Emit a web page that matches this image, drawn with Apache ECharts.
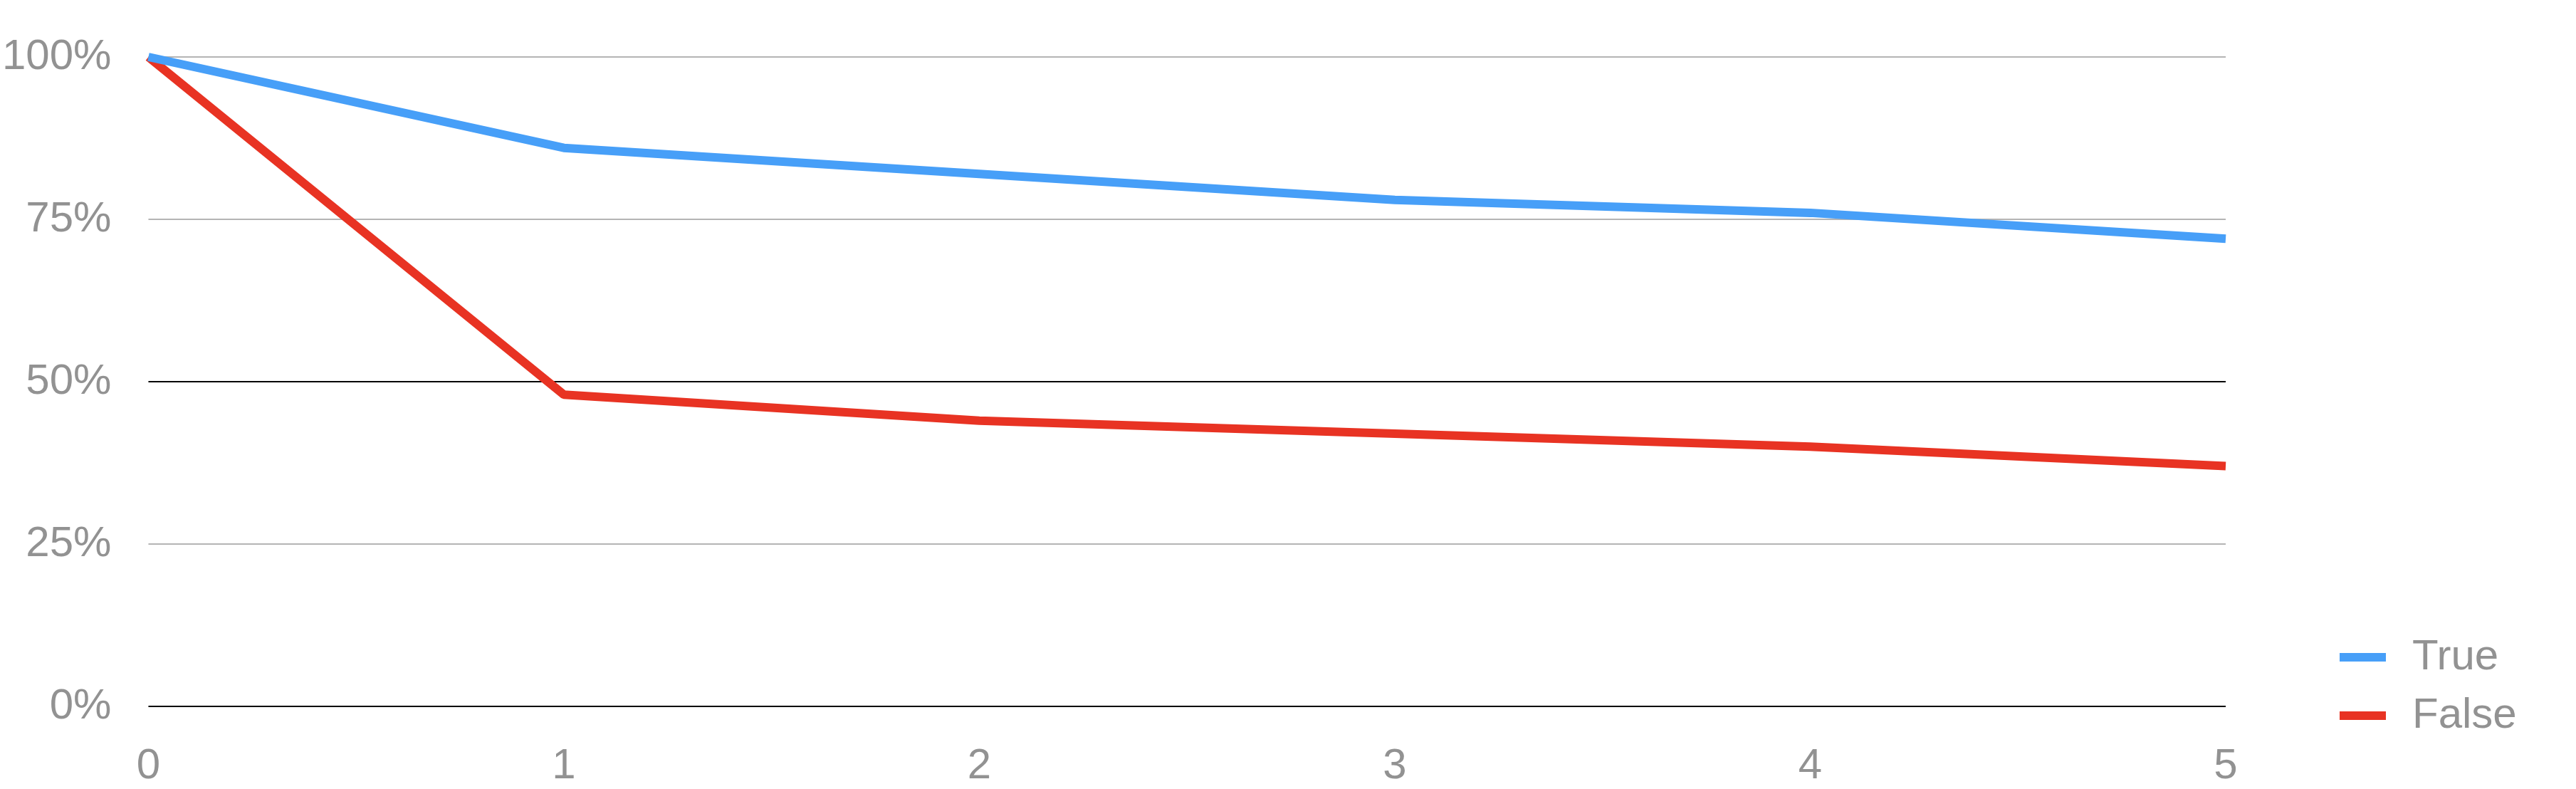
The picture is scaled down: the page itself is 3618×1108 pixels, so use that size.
<!DOCTYPE html>
<html>
<head>
<meta charset="utf-8">
<title>True / False</title>
<script src="https://cdn.jsdelivr.net/npm/echarts@6/dist/echarts.min.js"></script>
<style>
  html, body { margin: 0; padding: 0; background: #fff; }
  #chart { width: 3618px; height: 1108px; }
</style>
</head>
<body>
<div id="chart"></div>
<script>
// data
var steps = [0, 1, 2, 3, 4, 5];
var trueVals = [100, 86, 82, 78, 76, 72];
var falseVals = [100, 48, 44, 42, 40, 37];
var yTicks = [0, 25, 50, 75, 100];

(function (){
var dom = document.getElementById("chart");
var myChart = echarts.init(dom);
var option = null;

function pairs(vals) {
    return steps.map(function (s, i) { return [s, vals[i]]; });
}

var grey = '#929292';
option = {
    animation: false,
    textStyle: { fontFamily: 'Liberation Sans, Arial, sans-serif' },
    grid: {
        left: 200,
        right: 492,
        top: 80,
        bottom: 116,
        containLabel: false
    },
    legend: {
        orient: 'vertical',
        left: 3281,
        top: 888,
        icon: 'rect',
        itemWidth: 65,
        itemHeight: 12,
        itemGap: 22,
        textStyle: { color: grey, fontSize: 60, padding: [0, 0, 0, 32] },
        data: ['True', 'False']
    },
    xAxis: {
        type: 'value',
        min: steps[0],
        max: steps[steps.length - 1],
        interval: 1,
        axisLine: { show: false },
        axisTick: { show: false },
        splitLine: { show: false },
        axisLabel: { color: grey, fontSize: 60, margin: 54 }
    },
    yAxis: {
        type: 'value',
        min: yTicks[0],
        max: yTicks[yTicks.length - 1],
        interval: 25,
        axisLine: { show: false },
        axisTick: { show: false },
        axisLabel: { color: grey, fontSize: 60, margin: 52, padding: [12, 0, 0, 0], formatter: '{value}%' },
        splitLine: {
            show: true,
            lineStyle: { color: ['#000000', '#b4b4b4', '#000000', '#b4b4b4', '#b4b4b4'], width: 2 }
        }
    },
    series: [
        {
            name: 'False',
            type: 'line',
            showSymbol: false,
            z: 2,
            itemStyle: { color: '#e83323' },
            lineStyle: { color: '#e83323', width: 12 },
            data: pairs(falseVals)
        },
        {
            name: 'True',
            type: 'line',
            showSymbol: false,
            z: 3,
            itemStyle: { color: '#479ff8' },
            lineStyle: { color: '#479ff8', width: 12 },
            data: pairs(trueVals)
        }
    ]
};
if (option && typeof option === "object") {
    myChart.setOption(option, true);
}
})();
</script>
</body>
</html>
